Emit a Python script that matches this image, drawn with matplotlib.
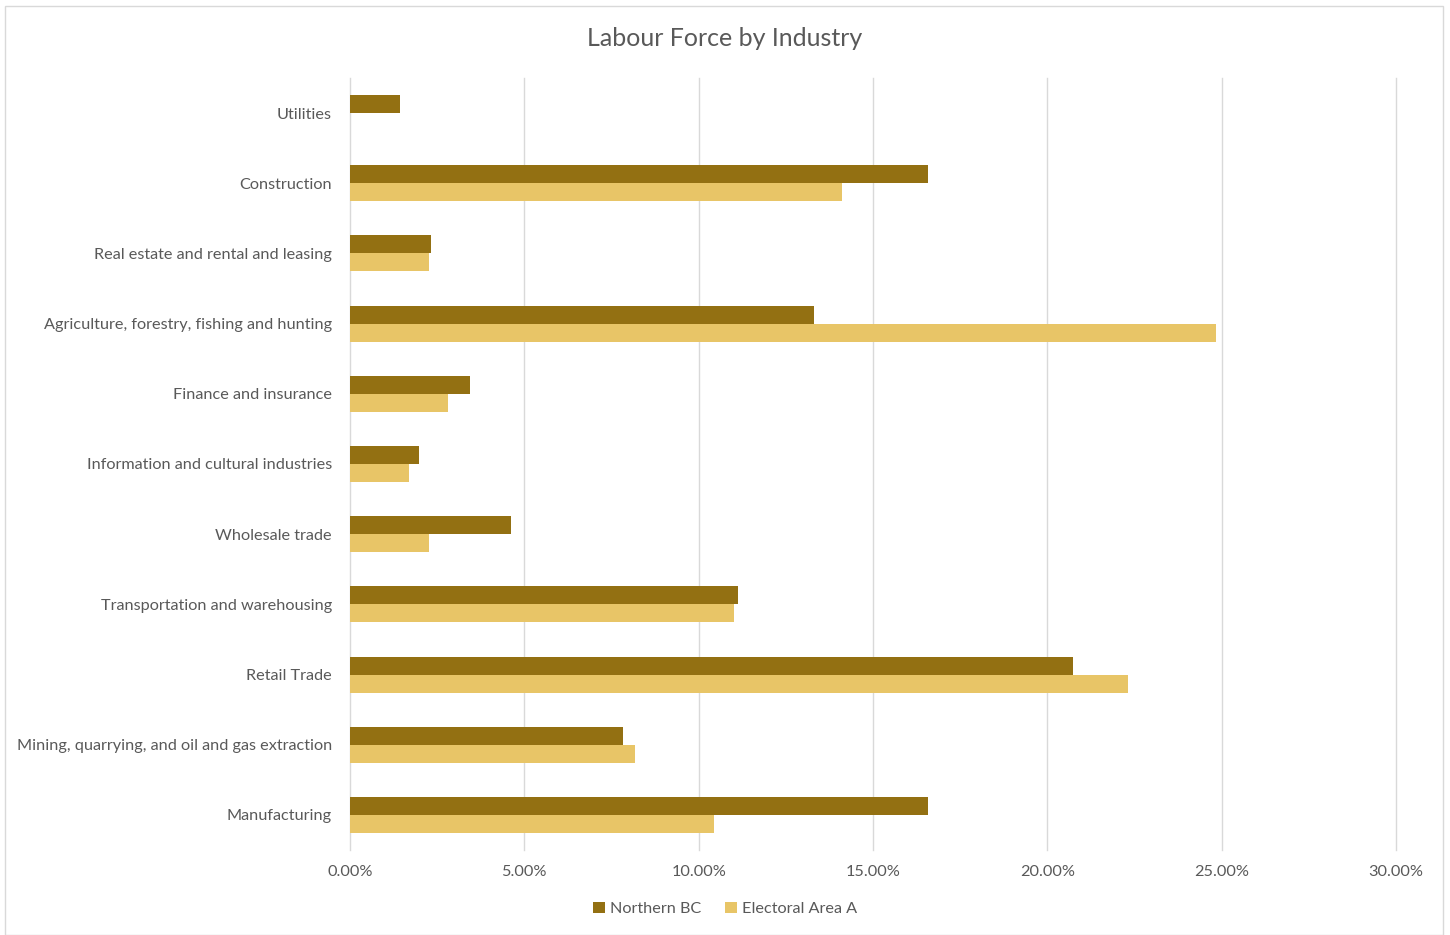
import matplotlib
matplotlib.use("Agg")
import matplotlib.pyplot as plt
import numpy as np
from matplotlib.ticker import FuncFormatter
from matplotlib.patches import Rectangle

plt.rcParams['font.family'] = ['Lato', 'DejaVu Sans']

# ----------------------------
# Data (percent of labour force)
# ----------------------------
industries = [
    "Utilities",
    "Construction",
    "Real estate and rental and leasing",
    "Agriculture, forestry, fishing and hunting",
    "Finance and insurance",
    "Information and cultural industries",
    "Wholesale trade",
    "Transportation and warehousing",
    "Retail Trade",
    "Mining, quarrying, and oil and gas extraction",
    "Manufacturing",
]
northern_bc = [1.43, 16.58, 2.32, 13.31, 3.44, 1.98, 4.62, 11.13, 20.73, 7.83, 16.58]
electoral_area_a = [0.0, 14.11, 2.27, 24.84, 2.81, 1.69, 2.27, 11.01, 22.31, 8.17, 10.44]
xticks = [0, 5, 10, 15, 20, 25, 30]

col_nbc = "#937012"
col_eaa = "#E8C567"
txt = "#595959"
grid = "#D9D9D9"

fig = plt.figure(figsize=(14.5, 9.35), dpi=100)
fig.patches.append(Rectangle((5 / 1450, 0), 1438 / 1450, 1 - 6 / 935,
                             transform=fig.transFigure, fill=False,
                             edgecolor="#D9D9D9", linewidth=1))
ax = fig.add_axes([350 / 1450, 1 - 850 / 935, 1046 / 1450, 772 / 935])

y = np.arange(len(industries))
h = 0.257
ax.barh(y - h / 2, northern_bc, height=h, color=col_nbc, label="Northern BC", zorder=3)
ax.barh(y + h / 2, electoral_area_a, height=h, color=col_eaa, label="Electoral Area A", zorder=3)

ax.set_ylim(len(industries) - 0.5, -0.5)
ax.set_xlim(0, 30)
ax.set_xticks(xticks)
ax.xaxis.set_major_formatter(FuncFormatter(lambda v, p: f"{v:.2f}%"))
ax.set_yticks(y)
ax.set_yticklabels(industries)
ax.tick_params(axis="both", length=0, colors=txt, labelsize=11.7)
ax.tick_params(axis="x", pad=11)
ax.tick_params(axis="y", pad=13)
ax.grid(axis="x", color=grid, linewidth=1, zorder=0)
for gl in ax.get_xgridlines():
    gl.set_clip_on(False)
for s in ax.spines.values():
    s.set_visible(False)

fig.text(0.5, 1 - 39 / 935, "Labour Force by Industry", ha="center", va="center",
         fontsize=18, color=txt)
fig.legend(loc="center", bbox_to_anchor=(0.5, 1 - 909 / 935), ncol=2, frameon=False,
           fontsize=11.7, labelcolor=txt, handlelength=0.7, handleheight=0.7,
           handletextpad=0.3, columnspacing=1.5)

fig.savefig("out.png", dpi=100)
